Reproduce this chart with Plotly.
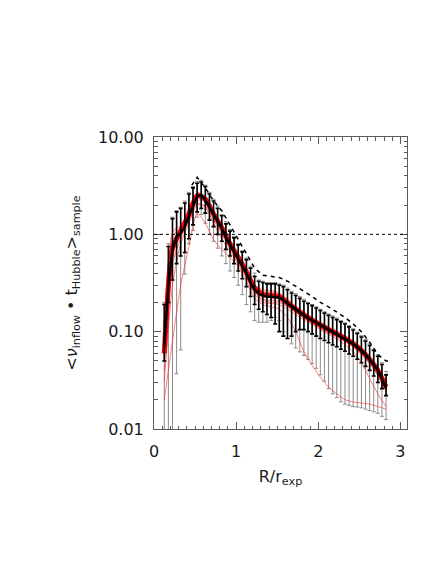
"""
Inflow rate profile - stacked sample average vs radius
"""
import plotly.graph_objects as go
import numpy as np

PALETTE = {
    'frame': '#5a5a5a',
    'text': '#1a1a1a',
    'gray_bar': '#8c8c8c',
    'red': '#ff0000',
    'red_thin': 'rgba(255,40,40,0.6)',
    'black': '#000000',
}

# radial bins (R / r_exp)
R_BINS = [0.125, 0.175, 0.225, 0.275, 0.325, 0.375, 0.425, 0.475, 0.525, 0.575,
          0.625, 0.675, 0.725, 0.775, 0.825, 0.875, 0.925, 0.975, 1.025, 1.075,
          1.125, 1.175, 1.225, 1.275, 1.325, 1.375, 1.425, 1.475, 1.525, 1.575,
          1.625, 1.675, 1.725, 1.775, 1.825, 1.875, 1.925, 1.975, 2.025, 2.075,
          2.125, 2.175, 2.225, 2.275, 2.325, 2.375, 2.425, 2.475, 2.525, 2.575,
          2.625, 2.675, 2.725, 2.775, 2.825]

# sample mean and its scatter (black)
MEAN = [0.07, 0.30, 0.70, 0.95, 1.03, 1.20, 1.55, 1.95, 2.45, 2.55,
        2.25, 1.90, 1.60, 1.38, 1.15, 0.93, 0.79, 0.67, 0.57, 0.48,
        0.40, 0.32, 0.27, 0.245, 0.235, 0.23, 0.228, 0.23, 0.225, 0.21,
        0.195, 0.18, 0.168, 0.157, 0.147, 0.138, 0.130, 0.123, 0.117, 0.111,
        0.105, 0.100, 0.095, 0.090, 0.085, 0.080, 0.075, 0.069, 0.064, 0.058,
        0.052, 0.046, 0.040, 0.033, 0.026]
MEAN_HI = [0.19, 0.75, 1.45, 1.70, 1.85, 2.10, 2.60, 3.00, 3.35, 3.45,
           3.10, 2.60, 2.20, 1.85, 1.55, 1.28, 1.08, 0.92, 0.78, 0.66,
           0.55, 0.45, 0.37, 0.33, 0.32, 0.31, 0.31, 0.31, 0.30, 0.29,
           0.27, 0.25, 0.235, 0.22, 0.205, 0.195, 0.185, 0.175, 0.165, 0.155,
           0.147, 0.140, 0.133, 0.126, 0.120, 0.112, 0.104, 0.096, 0.088, 0.080,
           0.072, 0.064, 0.056, 0.046, 0.036]
MEAN_LO = [0.05, 0.20, 0.34, 0.50, 0.60, 0.65, 0.90, 1.25, 1.70, 1.85,
           1.65, 1.40, 1.20, 1.00, 0.85, 0.70, 0.60, 0.50, 0.42, 0.35,
           0.29, 0.23, 0.19, 0.17, 0.16, 0.15, 0.14, 0.12, 0.10, 0.09,
           0.085, 0.09, 0.10, 0.105, 0.105, 0.10, 0.095, 0.090, 0.085, 0.081,
           0.077, 0.073, 0.070, 0.066, 0.063, 0.059, 0.056, 0.052, 0.048, 0.044,
           0.040, 0.035, 0.030, 0.026, 0.022]

# full sample range (gray bars)
RANGE_HI = [0.20, 0.80, 1.50, 1.75, 1.90, 2.20, 2.70, 3.10, 3.50, 3.60,
            3.20, 2.70, 2.30, 1.95, 1.60, 1.35, 1.12, 0.95, 0.80, 0.68,
            0.57, 0.47, 0.40, 0.34, 0.33, 0.32, 0.32, 0.32, 0.31, 0.30,
            0.28, 0.26, 0.245, 0.23, 0.215, 0.20, 0.19, 0.18, 0.17, 0.16,
            0.152, 0.145, 0.138, 0.130, 0.123, 0.115, 0.107, 0.099, 0.091, 0.083,
            0.075, 0.066, 0.058, 0.048, 0.039]
RANGE_LO = [0.005, 0.005, 0.005, 0.037, 0.065, 0.39, 0.80, 1.10, 1.50, 1.60,
            1.30, 1.00, 0.85, 0.72, 0.60, 0.50, 0.42, 0.36, 0.30, 0.24,
            0.19, 0.16, 0.13, 0.125, 0.125, 0.125, 0.13, 0.14, 0.13, 0.10,
            0.085, 0.075, 0.068, 0.062, 0.057, 0.052, 0.047, 0.042, 0.036, 0.031,
            0.026, 0.023, 0.021, 0.019, 0.018, 0.0175, 0.017, 0.0168, 0.0165, 0.016,
            0.0155, 0.015, 0.0145, 0.0135, 0.0125]

# individual model profiles (thin red) and their median (thick red)
R_MODEL = [0.125, 0.225, 0.325, 0.425, 0.525, 0.625, 0.725, 0.825, 0.925, 1.025,
           1.125, 1.225, 1.325, 1.425, 1.525, 1.625, 1.725, 1.825, 1.925, 2.025,
           2.125, 2.225, 2.325, 2.425, 2.525, 2.625, 2.725, 2.825]
MEDIAN = [0.06, 0.72, 1.08, 1.60, 2.50, 2.30, 1.62, 1.17, 0.80, 0.58,
          0.41, 0.28, 0.24, 0.235, 0.228, 0.198, 0.170, 0.148, 0.131, 0.117,
          0.105, 0.095, 0.085, 0.075, 0.064, 0.052, 0.040, 0.027]
MODEL_A = [0.02, 0.08, 0.30, 0.75, 1.65, 1.30, 0.88, 0.70, 0.58, 0.47,
           0.33, 0.22, 0.19, 0.18, 0.17, 0.14, 0.10, 0.062, 0.045, 0.034,
           0.027, 0.023, 0.020, 0.019, 0.0185, 0.018, 0.017, 0.016]
MODEL_B = [0.04, 0.50, 0.90, 1.35, 2.00, 1.95, 1.40, 1.00, 0.70, 0.50,
           0.36, 0.24, 0.20, 0.195, 0.19, 0.17, 0.15, 0.132, 0.118, 0.105,
           0.094, 0.084, 0.074, 0.062, 0.048, 0.033, 0.023, 0.017]
MODEL_C = [0.09, 0.95, 1.20, 1.75, 2.70, 2.45, 1.75, 1.25, 0.86, 0.62,
           0.44, 0.30, 0.26, 0.255, 0.245, 0.21, 0.18, 0.157, 0.138, 0.123,
           0.110, 0.100, 0.089, 0.079, 0.067, 0.055, 0.043, 0.029]
MODEL_D = [0.05, 0.60, 1.00, 1.45, 2.25, 2.15, 1.50, 1.08, 0.74, 0.53,
           0.38, 0.26, 0.215, 0.21, 0.205, 0.185, 0.16, 0.14, 0.124, 0.111,
           0.100, 0.090, 0.080, 0.071, 0.060, 0.048, 0.037, 0.025]
MODEL_E = [0.12, 1.05, 1.25, 1.65, 2.40, 2.20, 1.58, 1.15, 0.82, 0.60,
           0.42, 0.29, 0.25, 0.24, 0.235, 0.205, 0.175, 0.152, 0.134, 0.120,
           0.108, 0.097, 0.087, 0.077, 0.066, 0.054, 0.042, 0.028]
MODEL_F = [0.03, 0.30, 0.80, 1.30, 2.10, 1.90, 1.30, 0.90, 0.66, 0.50,
           0.37, 0.25, 0.21, 0.20, 0.20, 0.18, 0.158, 0.138, 0.122, 0.108,
           0.097, 0.088, 0.079, 0.069, 0.058, 0.047, 0.035, 0.024]
MODEL_G = [0.08, 0.85, 1.15, 1.90, 2.60, 2.35, 1.70, 1.20, 0.84, 0.60,
           0.43, 0.30, 0.27, 0.265, 0.25, 0.215, 0.183, 0.160, 0.140, 0.125,
           0.112, 0.101, 0.091, 0.081, 0.069, 0.056, 0.043, 0.030]

# upper envelope (dashed)
R_UPPER = [0.46, 0.525, 0.625, 0.725, 0.825, 0.925, 1.025, 1.125, 1.225, 1.325,
           1.425, 1.525, 1.625, 1.725, 1.825, 1.925, 2.025, 2.125, 2.225, 2.325,
           2.425, 2.525, 2.625, 2.725, 2.825, 2.875]
UPPER = [3.20, 3.85, 3.00, 2.20, 1.75, 1.25, 0.90, 0.63, 0.45, 0.38,
         0.37, 0.36, 0.33, 0.29, 0.26, 0.23, 0.20, 0.18, 0.16, 0.14,
         0.12, 0.10, 0.078, 0.058, 0.05, 0.05]

X_RANGE = [0, 3.08]
Y_TICKS = [0.01, 0.1, 1, 10]
Y_TICK_TEXT = ['0.01', '0.10', '1.00', '10.00']
X_TICKS = [0, 1, 2, 3]


def errbar_trace(x, y, hi, lo, color, width, cap):
    y = np.asarray(y)
    return go.Scatter(
        x=x, y=y, mode='markers',
        marker=dict(size=1, color='rgba(0,0,0,0)'),
        error_y=dict(type='data', symmetric=False,
                     array=np.asarray(hi) - y, arrayminus=y - np.asarray(lo),
                     color=color, thickness=width, width=cap),
        showlegend=False, hoverinfo='skip'
    )


def create_figure():
    fig = go.Figure()

    # gray sample range bars
    fig.add_trace(errbar_trace(R_BINS, MEAN, RANGE_HI, RANGE_LO,
                               PALETTE['gray_bar'], 1, 2))

    # individual models
    for prof in [MODEL_A, MODEL_B, MODEL_C, MODEL_D, MODEL_E, MODEL_F, MODEL_G]:
        fig.add_trace(go.Scatter(
            x=R_MODEL, y=prof, mode='lines',
            line=dict(color=PALETTE['red_thin'], width=1, shape='spline', smoothing=0.6),
            showlegend=False, hoverinfo='skip'
        ))

    # median model
    fig.add_trace(go.Scatter(
        x=R_MODEL, y=MEDIAN, mode='lines',
        line=dict(color=PALETTE['red'], width=5, shape='spline', smoothing=0.6),
        showlegend=False, hoverinfo='skip'
    ))

    # black scatter bars + mean
    fig.add_trace(errbar_trace(R_BINS, MEAN, MEAN_HI, MEAN_LO,
                               PALETTE['black'], 1.6, 2))
    fig.add_trace(go.Scatter(
        x=R_BINS, y=MEAN, mode='lines',
        line=dict(color=PALETTE['black'], width=2.5),
        showlegend=False, hoverinfo='skip'
    ))

    # upper envelope
    fig.add_trace(go.Scatter(
        x=R_UPPER, y=UPPER, mode='lines',
        line=dict(color=PALETTE['black'], width=1.5, dash='4px,4px'),
        showlegend=False, hoverinfo='skip'
    ))

    fig.add_hline(y=1, line=dict(color=PALETTE['black'], width=1, dash='dot'))

    axis_common = dict(
        showline=True, linecolor=PALETTE['frame'], linewidth=1,
        mirror='allticks', ticks='inside', tickcolor=PALETTE['frame'],
        showgrid=False, zeroline=False,
        tickfont=dict(family='DejaVu Sans', size=16, color=PALETTE['text']),
    )

    # the page body adds an 8px offset, so margins are shifted to compensate
    fig.update_layout(
        width=436, height=564,
        plot_bgcolor='white', paper_bgcolor='white',
        margin=dict(l=146, r=37, t=129, b=143),
        xaxis=dict(
            range=X_RANGE, tickvals=X_TICKS, ticklen=7,
            minor=dict(dtick=0.1, ticks='inside', ticklen=3.5, tickcolor=PALETTE['frame']),
            ticklabelstandoff=8,
            title=dict(text='R/r<sub>exp</sub>', standoff=10,
                       font=dict(family='DejaVu Sans', size=16, color=PALETTE['text'])),
            **axis_common
        ),
        yaxis=dict(
            type='log', range=[-2, 1], tickvals=Y_TICKS, ticktext=Y_TICK_TEXT, ticklen=7,
            minor=dict(dtick='D1', ticks='inside', ticklen=3.5, tickcolor=PALETTE['frame']),
            ticklabelstandoff=6,
            title=dict(text='&lt;<i>ν</i><sub>inflow</sub> • t<sub>Hubble</sub>&gt;<sub>sample</sub>',
                       standoff=16,
                       font=dict(family='DejaVu Sans', size=16, color=PALETTE['text'])),
            **axis_common
        ),
        showlegend=False,
    )
    return fig


fig = create_figure()
fig.write_html("out.html")
